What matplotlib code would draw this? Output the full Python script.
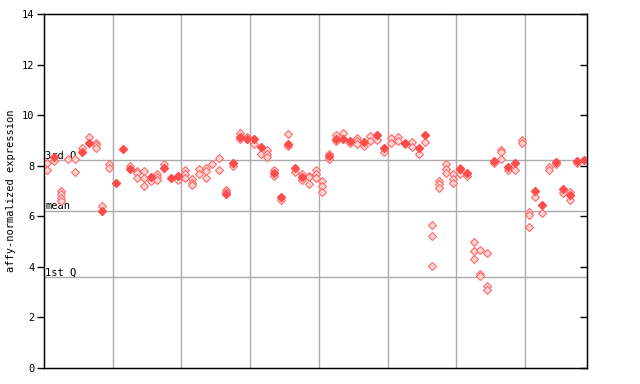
import matplotlib
matplotlib.use("Agg")
import matplotlib.pyplot as plt

# expression values per sample, hatched (replicate) markers and solid markers
hollow_vals = [
    [8.1, 7.85], [8.2], [7.0, 6.87, 6.73, 6.6], [8.25], [8.25, 7.75],
    [8.7], [9.15], [8.9, 8.8, 8.7], [6.4], [8.05, 7.9],
    [], [], [8.0], [7.8, 7.7, 7.5], [7.8, 7.5, 7.2],
    [7.4], [7.67, 7.55, 7.43], [8.07], [], [7.43],
    [7.83, 7.67, 7.5], [7.49, 7.33, 7.22], [7.86, 7.67], [7.9, 7.8, 7.5], [8.05],
    [8.29, 7.83], [7.04, 6.95], [7.99], [9.28, 9.04], [9.15],
    [8.84], [8.46], [8.62, 8.46, 8.33], [7.83, 7.6], [6.64],
    [9.24, 8.78], [7.75], [7.67, 7.43], [7.6, 7.54, 7.26], [7.83, 7.67, 7.5],
    [7.41, 7.2, 6.97], [8.46, 8.25], [9.21, 8.98], [9.28], [8.88],
    [9.1, 8.96, 8.84], [8.79], [9.17, 8.99], [9.01], [8.53],
    [9.08, 8.91], [9.12, 8.99], [8.86], [8.95, 8.75], [8.46],
    [8.95], [5.64, 5.24, 4.02], [7.4, 7.26, 7.13], [8.07, 7.86, 7.7], [7.67, 7.49, 7.3],
    [7.92, 7.67], [7.6], [4.98, 4.63, 4.3], [4.65, 3.7, 3.65], [4.54, 3.25, 3.07],
    [8.09], [8.62, 8.55, 8.25], [7.83], [7.83], [9.01, 8.91],
    [6.18, 6.05, 5.56], [6.77], [6.12], [7.96, 7.83], [8.05],
    [6.93], [6.97, 6.63], [8.12], [],
]
solid_vals = [
    [], [8.35], [], [], [],
    [8.55], [8.9], [], [6.22], [],
    [7.3], [8.67], [7.86], [], [],
    [7.57], [], [7.92], [7.53], [7.6],
    [], [], [], [], [],
    [], [6.88], [8.09], [9.15], [9.04],
    [9.04], [8.75], [], [7.7], [6.77],
    [8.86], [7.92], [7.54], [], [],
    [], [8.38], [9.06], [9.07], [8.99],
    [], [8.95], [], [9.21], [8.69],
    [], [], [8.91], [], [8.72],
    [9.21], [], [], [], [],
    [7.86], [7.7], [], [], [],
    [8.2], [], [7.96], [8.09], [],
    [], [7.01], [6.46], [], [8.16],
    [7.06], [6.83], [8.2], [8.22],
]
quartiles = {"3rd Q": 8.21, "mean": 6.21, "1st Q": 3.59}
y_ticks = [0, 2, 4, 6, 8, 10, 12, 14]

n = len(hollow_vals)
mono = "DejaVu Sans Mono"

fig = plt.figure(figsize=(6.4, 3.84), dpi=100)
ax = fig.add_axes([44 / 640, 16 / 384, 543 / 640, 354 / 384])

hx, hy, sx, sy = [], [], [], []
for i in range(n):
    for v in hollow_vals[i]:
        hx.append(i + 0.5)
        hy.append(v)
    for v in solid_vals[i]:
        sx.append(i + 0.5)
        sy.append(v)

ax.plot(hx, hy, linestyle="none", marker="D", markersize=3.8,
        markerfacecolor="#ffd4d4", markeredgecolor="#ff6a6a",
        markeredgewidth=0.8, zorder=3)
ax.plot(sx, sy, linestyle="none", marker="D", markersize=4.4,
        color="#ff4c4c", zorder=4)

for x in range(10, n, 10):
    ax.axvline(x, color="#aaaaaa", lw=1, zorder=1)
for label, v in quartiles.items():
    ax.axhline(v, color="#aaaaaa", lw=1, zorder=1)
    ax.text(0.15, v, label, fontsize=7.5, family=mono, va="bottom",
            ha="left", zorder=2)

ax.set_xlim(0, n)
ax.set_ylim(0, 14)
ax.set_xticks([])
ax.set_yticks(y_ticks)
ax.set_yticklabels([str(t) for t in y_ticks], family=mono, fontsize=7.5)
ax.tick_params(axis="y", direction="out", length=5, width=1, pad=2)
ax.set_ylabel("affy-normalized expression", family=mono, fontsize=7.5,
              labelpad=4)
for s in ax.spines.values():
    s.set_linewidth(1)

ax2 = ax.twinx()
ax2.set_ylim(0, 14)
ax2.set_yticks(y_ticks)
ax2.set_yticklabels([])
ax2.tick_params(axis="y", direction="in", length=5, width=1)

fig.savefig("out.png", dpi=100)
